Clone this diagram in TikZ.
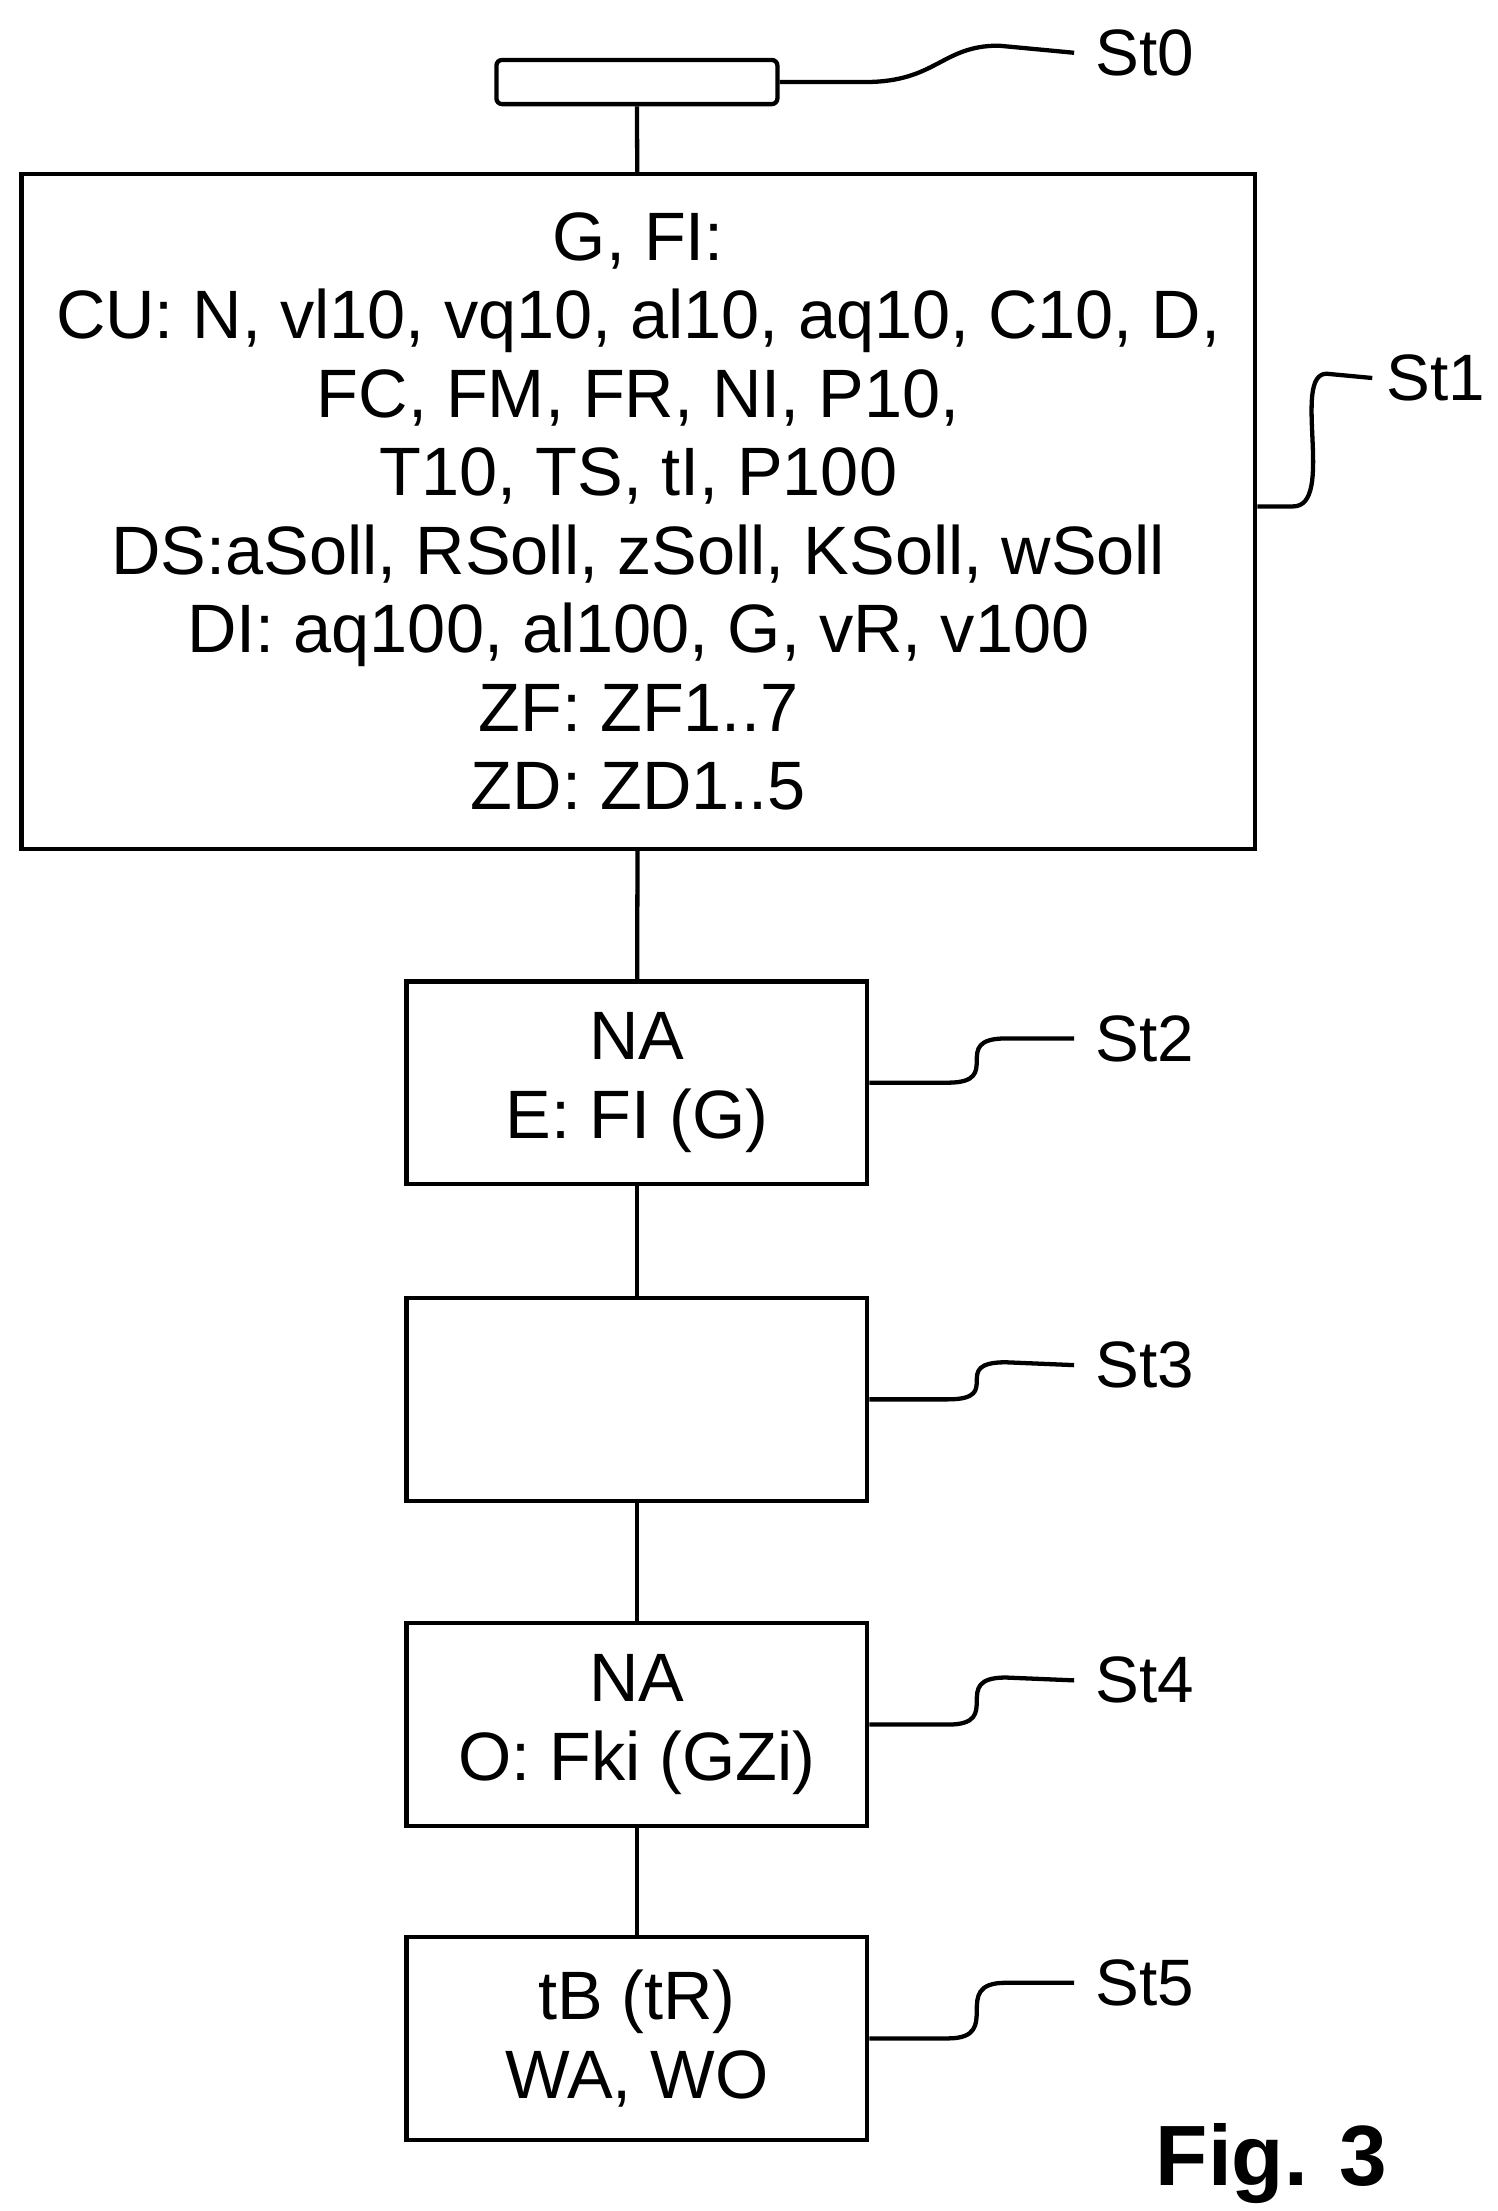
\documentclass[tikz,border=0pt]{standalone}
\usepackage{fontspec}
\setmainfont{Liberation Sans}
\usetikzlibrary{positioning}
\tikzset{
  stepbox/.style={draw, line width=3pt, rectangle, align=center, inner sep=0pt,
    font=\fontsize{48}{55}\selectfont},
  lbl/.style={anchor=west, inner sep=0pt, font=\fontsize{46}{50}\selectfont},
  lead/.style={line width=3pt}
}
\begin{document}
\begin{tikzpicture}[x=1pt,y=-1pt]
  \useasboundingbox (0,0) rectangle (1050,1550);
  % steps
  \node[stepbox, rounded corners=4pt, minimum width=197pt, minimum height=31pt] (s0) at (446.5,57.5) {};
  \node[stepbox, minimum width=865pt, minimum height=473pt] (s1) at (447.5,358.5)
    {G, FI:\\CU: N, vl10, vq10, al10, aq10, C10, D,\\FC, FM, FR, NI, P10,\\T10, TS, tI, P100\\DS:aSoll, RSoll, zSoll, KSoll, wSoll\\DI: aq100, al100, G, vR, v100\\ZF: ZF1..7\\ZD: ZD1..5};
  \node[stepbox, minimum width=323pt, minimum height=142pt] (s2) at (446.5,759) {NA\\E: FI (G)};
  \node[stepbox, minimum width=323pt, minimum height=142pt] (s3) at (446.5,981) {};
  \node[stepbox, minimum width=323pt, minimum height=142pt] (s4) at (446.5,1209) {NA\\O: Fki (GZi)};
  \node[stepbox, minimum width=323pt, minimum height=142pt] (s5) at (446.5,1429) {tB (tR)\\WA, WO};
  % flow
  \draw[lead] (s0) -- (s1);
  \draw[lead] (s1) -- (s2);
  \draw[lead] (s2) -- (s3);
  \draw[lead] (s3) -- (s4);
  \draw[lead] (s4) -- (s5);
  % labels
  \node[lbl] (l0) at (768,37) {St0};
  \node[lbl] (l1) at (972,265) {St1};
  \node[lbl] (l2) at (768,728) {St2};
  \node[lbl] (l3) at (768,957) {St3};
  \node[lbl] (l4) at (768,1178) {St4};
  \node[lbl] (l5) at (768,1390) {St5};
  \draw[lead] (s0.east) -- ++(60,0) .. controls +(50,0) and +(-40,0) .. (700,32) -- ([xshift=-15pt]l0.west);
  \draw[lead] (s1.east |- 0,355) -- ++(25,0) .. controls +(30,0) and +(-25,0) .. (930,262) -- ([xshift=-10pt]l1.west);
  \draw[lead] (s2.east) -- ++(55,0) .. controls +(40,0) and +(-40,0) .. (705,728) -- ([xshift=-15pt]l2.west);
  \draw[lead] (s3.east) -- ++(55,0) .. controls +(40,0) and +(-40,0) .. (705,955) -- ([xshift=-15pt]l3.west);
  \draw[lead] (s4.east) -- ++(55,0) .. controls +(40,0) and +(-40,0) .. (705,1176) -- ([xshift=-15pt]l4.west);
  \draw[lead] (s5.east) -- ++(55,0) .. controls +(40,0) and +(-40,0) .. (705,1390) -- ([xshift=-15pt]l5.west);
  \node[anchor=west, inner sep=0pt, font=\fontsize{60}{70}\selectfont\bfseries] (fig) at (810,1517) {Fig. 3};
\end{tikzpicture}
\end{document}
